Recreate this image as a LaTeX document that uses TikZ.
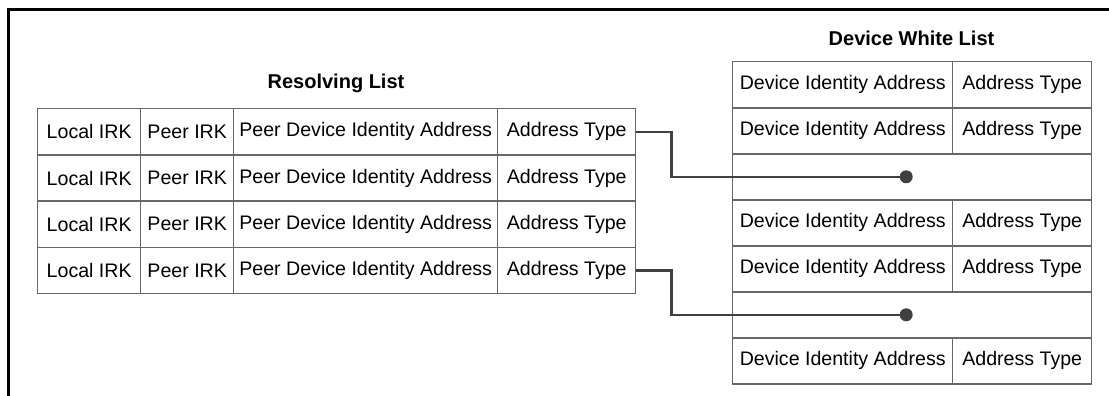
\documentclass[tikz,border=0pt]{standalone}
\usepackage{fontspec}
\setmainfont{Liberation Sans}
\usetikzlibrary{calc}
\definecolor{cellgray}{HTML}{686868}
\definecolor{linkgray}{HTML}{404040}

\begin{document}
\begin{tikzpicture}[x=1pt, y=-1pt,
  cell/.style={draw=cellgray, line width=1.4pt, inner sep=0pt, anchor=north west,
    minimum height=46.2pt, font=\fontsize{19.6}{22}\selectfont},
  title/.style={font=\fontsize{20}{22}\selectfont\bfseries},
  link/.style={draw=linkgray, line width=2.6pt},
  dot/.style={circle, fill=linkgray, inner sep=0pt, minimum size=13pt}]

\useasboundingbox (0,0) rectangle (1109,396);

% frame
\draw[line width=3pt] (8,396) -- (8,9.5) -- (1109,9.5);

% resolving list
\node[title] (rltitle) at (336,83) {Resolving List};
\foreach \r in {1,...,4} {
  \node[cell, minimum width=103pt] (rlocal\r) at (37,{108+46.25*(\r-1)}) {Local IRK};
  \node[cell, minimum width=93pt] (rpeer\r) at (140,{108+46.25*(\r-1)}) {Peer IRK};
  \node[cell, minimum width=264pt] (raddr\r) at (233,{108+46.25*(\r-1)}) {Peer Device Identity Address};
  \node[cell, minimum width=138pt] (rtype\r) at (497,{108+46.25*(\r-1)}) {Address Type};
}

% device white list
\node[title] (wltitle) at (911.5,38) {Device White List};
\foreach \r in {1,2,4,5,7} {
  \node[cell, minimum width=220pt] (waddr\r) at (732,{61+46*(\r-1)}) {Device Identity Address};
  \node[cell, minimum width=139pt] (wtype\r) at (952,{61+46*(\r-1)}) {Address Type};
}
\foreach \r in {3,6}
  \node[cell, minimum width=359pt] (wempty\r) at (732,{61+46*(\r-1)}) {};

% links
\node[dot] (hit1) at ([xshift=-6pt]wempty3.center) {};
\node[dot] (hit2) at ([xshift=-6pt]wempty6.center) {};
\draw[link] (rtype1.east) -- ++(35,0) |- (hit1);
\draw[link] (rtype4.east) -- ++(35,0) |- (hit2);

\end{tikzpicture}
\end{document}
